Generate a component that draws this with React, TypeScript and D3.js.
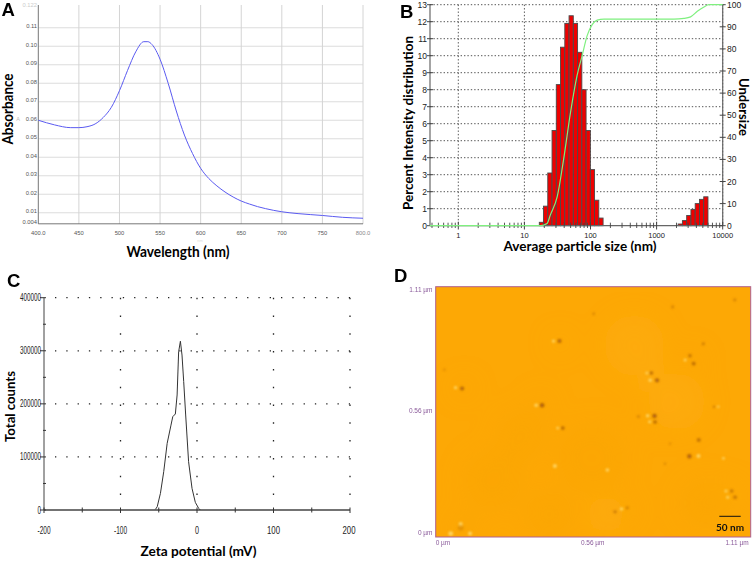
import React from "react";
import * as d3 from "d3";

const W = 753, H = 576;
const SANS = "'Liberation Sans', Arial, sans-serif";
const TITLE = "Lato, 'Open Sans', sans-serif";

// Panel A
const wavelengths = [400,420,440,450,460,470,480,490,500,510,520,530,535,540,550,560,570,580,590,600,610,620,630,640,650,660,670,680,700,720,750,775,800];
const absorbance = [.060,.0575,.056,.056,.0565,.058,.0615,.067,.076,.087,.097,.1025,.1025,.101,.093,.080,.065,.052,.042,.034,.0285,.0245,.0212,.0185,.0163,.0147,.0133,.0122,.0105,.0095,.0085,.0075,.007];
const aXTicks = [400,450,500,550,600,650,700,750,800];
const aXLabels = ["400.0","450","500","550","600","650","700","750","800.0"];
const aYTicks = [.01,.02,.03,.04,.05,.06,.07,.08,.09,.10,.11];

// Panel B
const sizesMain = [18.1,20.9,24.3,28.2,32.7,37.9,44,51,59.2,68.7,79.6,92.4,107,124,144];
const intensityMain = [.2,1.15,3.1,5.6,8.3,10.5,11.9,12.35,11.9,10.2,8.0,5.6,3.3,1.5,.45];
const sizesLarge = [2280,2645,3070,3560,4130,4790,5560];
const intensityLarge = [.1,.3,.6,.95,1.3,1.55,1.7];
const undersizeX = [.37,10,17.5,22,24.8,31.3,39.4,49.7,62.7,74.8,89,106,126,159,1830,2590,3270,4130,5210,6210,10000];
const undersizeY = [0,0,0,1,5,13,30.5,51,68,77,86,91,93,93.5,93.5,93.8,94.5,97,99,100,100];
const bDecades = [1,10,100,1000,10000];
const bMinor = [.4,.5,.6,.7,.8,.9,2,3,4,5,6,7,8,9,20,30,40,50,60,70,80,90,200,300,400,500,600,700,800,900,2000,3000,4000,5000,6000,7000,8000,9000];
const bLeftTicks = d3.range(0, 14);
const bRightTicks = [0,10,20,30,40,50,60,70,80,90,100];

// Panel C
const zeta = [-54.3,-52,-47.8,-43.5,-39,-34,-31.7,-28.3,-26,-24,-21.7,-19.6,-17.4,-14.8,-11,-6.5,-2.2,2.2,4.3];
const counts = [1256,6280,31400,72200,125600,160000,175800,180900,216700,298000,318000,292000,242000,179000,91000,40800,14400,3100,0];
const cXLabels = [-200,-100,0,100,200];
const cXMinor = [-150,-50,50,150];
const cYLabels = [0,100000,200000,300000,400000];
const cYMinor = [50000,150000,250000,350000];

// Panel D (micrometres)
const darkX = [.436,.093,.375,.448,.771,.773,.760,.780,.896,.909,.943,.927,.894,1.043,1.055,.632,.675,.557,.835,1.054,.031,.714,.981,.808,.826,.088];
const darkY = [.869,.659,.584,.483,.537,.510,.727,.695,.804,.769,.857,.430,.358,.204,.176,.112,.130,.990,1.020,1.051,.742,.534,.578,.325,.414,.041];
const darkR = [2,2,2.2,1.8,2.2,1.8,1.8,2.1,1.7,1.9,1.5,2,2.2,1.8,1.8,1.6,1.5,1.3,1.4,1.4,1.2,1.3,1,1.2,1.2,3];
const darkOp = [.85,.85,.9,.8,.9,.8,.75,.85,.65,.75,.55,.65,.85,.6,.65,.6,.5,.45,.5,.5,.35,.5,.8,.4,.35,.25];
const lightX = [.415,.070,.354,.430,.747,.754,.756,.744,.879,.926,.420,.605,.996,1.014,1.029,1.023,.655,.053,.121,.088];
const lightY = [.869,.662,.584,.483,.538,.511,.695,.727,.785,.359,.315,.297,.578,.349,.176,.204,.124,.015,.016,.058];
const lightR = [1.6,1.6,1.8,1.4,1.8,1.6,1.8,1.4,1.5,2,2,1.8,1.2,1.4,1.5,1.5,1.7,2.4,2,2];
const softX = [.44,.10,.37,.76,.77,.90,1.04,.66,.10,.60,.30,.20,.85,.55,.95,.70,.40];
const softY = [.86,.66,.59,.70,.52,.78,.19,.12,.04,.10,.45,.25,.60,.35,.15,.85,.10];
const softR = [9,9,10,13,12,11,11,12,14,18,25,30,28,35,25,30,25];
const dTicks = ["0 µm","0.56 µm","1.11 µm"];
const dTickVals = [0,.56,1.11];

const PanelA = () => {
  const x = d3.scaleLinear().domain([400, 800]).range([38.3, 363]);
  const y = d3.scaleLinear().domain([.01, .10]).range([212.7, 46.3]);
  const line = d3.line<number>().x((_, i) => x(wavelengths[i])).y(d => y(d)).curve(d3.curveMonotoneX);
  return (
    <g>
      <g filter="url(#soft)">
        {aYTicks.map(t => <line key={t} x1={38.3} x2={363} y1={y(t)} y2={y(t)} stroke="#dcdcdc" strokeWidth={1.1} />)}
        {aXTicks.slice(1).map(t => <line key={t} x1={x(t)} x2={x(t)} y1={5} y2={224} stroke="#d4d4d4" strokeWidth={1} />)}
        <line x1={38.3} x2={38.3} y1={5} y2={224} stroke="#777" strokeWidth={1} />
        <line x1={38.3} x2={363} y1={223.8} y2={223.8} stroke="#777" strokeWidth={1} />
        <path d={line(absorbance) || ""} fill="none" stroke="#5a5af0" strokeWidth={1} />
      </g>
      {aYTicks.map(t => (
        <text key={t} x={37} y={y(t) + 0.5} textAnchor="end" fontSize={5.8} fill="#555" fontFamily={SANS}>{t.toFixed(2)}</text>
      ))}
      <text x={37} y={224} textAnchor="end" fontSize={5.8} fill="#555" fontFamily={SANS}>0.004</text>
      <text x={37} y={7} textAnchor="end" fontSize={5.8} fill="#ccc" fontFamily={SANS}>0.122</text>
      <text x={18} y={121} textAnchor="middle" fontSize={5.5} fill="#bbb" fontFamily={SANS}>A</text>
      {aXLabels.map((l, i) => (
        <text key={l} x={x(aXTicks[i])} y={235} textAnchor="middle" fontSize={5.8} fill={i === 8 ? "#888" : "#555"} fontFamily={SANS}>{l}</text>
      ))}
      <text x={200} y={242} textAnchor="middle" fontSize={4} fill="#ddd" fontFamily={SANS}>nm</text>
      <text x={178} y={257} textAnchor="middle" fontSize={14.5} fontWeight={700} fontFamily={TITLE} textLength={103} lengthAdjust="spacingAndGlyphs">Wavelength (nm)</text>
      <text transform="translate(13,109) rotate(-90)" textAnchor="middle" fontSize={14.5} fontWeight={700} fontFamily={TITLE} textLength={71} lengthAdjust="spacingAndGlyphs">Absorbance</text>
    </g>
  );
};

const PanelB = () => {
  const x = d3.scaleLog().domain([1, 10000]).range([458.3, 722.7]);
  const y = d3.scaleLinear().domain([0, 13]).range([225.7, 4.7]);
  const yR = d3.scaleLinear().domain([0, 100]).range([225.7, 4.7]);
  const x0 = 430;
  const line = d3.line<number>().x((_, i) => x(undersizeX[i])).y(d => yR(d)).curve(d3.curveMonotoneX);
  const half = 1.0767;
  const bar = (s: number, v: number) => (
    <rect key={s} x={x(s / half)} width={x(s * half) - x(s / half)} y={y(v)} height={y(0) - y(v)} fill="#ee0000" stroke="#4a4a4a" strokeWidth={0.9} />
  );
  return (
    <g>
      <g filter="url(#soft)">
        {bLeftTicks.slice(1).map(t => <line key={t} x1={x0} x2={722.7} y1={y(t)} y2={y(t)} stroke="#555" strokeWidth={1} strokeDasharray="1.4 2" />)}
        {bDecades.map(t => <line key={t} x1={x(t)} x2={x(t)} y1={4.7} y2={225.7} stroke="#555" strokeWidth={1} strokeDasharray="1.4 2" />)}
        {sizesMain.map((s, i) => bar(s, intensityMain[i]))}
        {sizesLarge.map((s, i) => bar(s, intensityLarge[i]))}
        <line x1={x0} x2={x0} y1={4.7} y2={225.7} stroke="#666" strokeWidth={1.2} />
        <line x1={722.7} x2={722.7} y1={4.7} y2={225.7} stroke="#666" strokeWidth={1.2} />
        <line x1={x0} x2={722.7} y1={225.7} y2={225.7} stroke="#666" strokeWidth={1.2} />
        {bLeftTicks.map(t => <line key={t} x1={x0 - 3} x2={x0 + 3} y1={y(t)} y2={y(t)} stroke="#444" strokeWidth={1} />)}
        {bRightTicks.map(t => <line key={t} x1={719.7} x2={725.7} y1={yR(t)} y2={yR(t)} stroke="#444" strokeWidth={1} />)}
        {bMinor.map(t => <line key={t} x1={x(t)} x2={x(t)} y1={222.7} y2={228} stroke="#444" strokeWidth={0.9} />)}
        {bDecades.map(t => <line key={t} x1={x(t)} x2={x(t)} y1={221.7} y2={229.5} stroke="#444" strokeWidth={1} />)}
        <path d={line(undersizeY) || ""} fill="none" stroke="#7ff07f" strokeWidth={1.2} />
      </g>
      {bLeftTicks.map(t => <text key={t} x={427} y={y(t) + 3} textAnchor="end" fontSize={8.5} fill="#222" fontFamily={SANS}>{t}</text>)}
      {bRightTicks.map(t => <text key={t} x={727} y={yR(t) + 3} fontSize={8.5} fill="#222" fontFamily={SANS}>{t}</text>)}
      {bDecades.map(t => <text key={t} x={x(t)} y={237.5} textAnchor="middle" fontSize={7.5} fill="#222" fontFamily={SANS}>{t}</text>)}
      <text x={580} y={251} textAnchor="middle" fontSize={13} fontWeight={700} fontFamily={TITLE} textLength={153} lengthAdjust="spacingAndGlyphs">Average particle size (nm)</text>
      <text transform="translate(413,123) rotate(-90)" textAnchor="middle" fontSize={13} fontWeight={700} fontFamily={TITLE} textLength={174} lengthAdjust="spacingAndGlyphs">Percent Intensity distribution</text>
      <text transform="translate(739,107) rotate(90)" textAnchor="middle" fontSize={13} fontWeight={700} fontFamily={TITLE} textLength={58} lengthAdjust="spacingAndGlyphs">Undersize</text>
    </g>
  );
};

const PanelC = () => {
  const x = d3.scaleLinear().domain([-200, 200]).range([44, 350]);
  const y = d3.scaleLinear().domain([0, 400000]).range([510, 297.7]);
  const line = d3.line<number>().x((_, i) => x(zeta[i])).y(d => y(d));
  return (
    <g>
      <g filter="url(#soft)">
        {cYLabels.slice(1).map(t => <line key={t} x1={55} x2={350} y1={y(t)} y2={y(t)} stroke="#222" strokeWidth={1.3} strokeDasharray="1.3 10" />)}
        {cXLabels.slice(1).map(t => <line key={t} x1={x(t)} x2={x(t)} y1={297.7} y2={505} stroke="#222" strokeWidth={1.3} strokeDasharray="1.5 16.3" />)}
        <line x1={44} x2={44} y1={297.7} y2={510} stroke="#444" strokeWidth={1} />
        {cYLabels.map(t => <line key={t} x1={40} x2={46} y1={y(t)} y2={y(t)} stroke="#333" strokeWidth={1} />)}
        {cYMinor.map(t => <line key={t} x1={43} x2={46} y1={y(t)} y2={y(t)} stroke="#333" strokeWidth={1} />)}
        <line x1={44} x2={350} y1={510} y2={510} stroke="#444" strokeWidth={1.6} />
        {cXLabels.map(t => <line key={t} x1={x(t)} x2={x(t)} y1={507.5} y2={513} stroke="#333" strokeWidth={1} />)}
        {cXMinor.map(t => <line key={t} x1={x(t)} x2={x(t)} y1={507.5} y2={512.5} stroke="#333" strokeWidth={1} />)}
        <path d={line(counts) || ""} fill="none" stroke="#333" strokeWidth={1} />
      </g>
      {cYLabels.map(t => (
        <text key={t} x={41} y={y(t) + 3.5} textAnchor="end" fontSize={10} fill="#222" fontFamily={SANS} textLength={t === 0 ? 3.5 : 21} lengthAdjust="spacingAndGlyphs">{t}</text>
      ))}
      {cXLabels.map(t => (
        <text key={t} x={t === 200 ? x(t) - 1 : x(t)} y={534} textAnchor="middle" fontSize={10} fill="#222" fontFamily={SANS} textLength={t === 0 ? 4 : 13} lengthAdjust="spacingAndGlyphs">{t}</text>
      ))}
      <text x={198.5} y={556} textAnchor="middle" fontSize={12.5} fontWeight={700} fontFamily={TITLE} textLength={116} lengthAdjust="spacingAndGlyphs">Zeta potential (mV)</text>
      <text transform="translate(15,406.5) rotate(-90)" textAnchor="middle" fontSize={12.5} fontWeight={700} fontFamily={TITLE} textLength={71} lengthAdjust="spacingAndGlyphs">Total counts</text>
    </g>
  );
};

const PanelD = () => {
  const x = d3.scaleLinear().domain([0, 1.11]).range([435.7, 750.7]);
  const y = d3.scaleLinear().domain([0, 1.11]).range([537, 286.7]);
  const purple = "#8a5a9a";
  return (
    <g>
      <rect x={435.7} y={286.7} width={315} height={250.3} fill="#fda805" />
      <clipPath id="dclip"><rect x={435.7} y={286.7} width={315} height={250.3} /></clipPath>
      <g clipPath="url(#dclip)">
        <g filter="url(#blurBig)">
          {softX.map((v, i) => <circle key={i} cx={x(v)} cy={y(softY[i])} r={softR[i]} fill={i % 3 === 0 ? "#ffb21e" : "#f8a208"} opacity={0.35} />)}
        </g>
        <g filter="url(#blurSpot)">
          {lightX.map((v, i) => <circle key={i} cx={x(v)} cy={y(lightY[i])} r={lightR[i]} fill="#ffdc70" opacity={0.85} />)}
          {darkX.map((v, i) => <circle key={i} cx={x(v)} cy={y(darkY[i])} r={darkR[i]} fill="#a85a08" opacity={darkOp[i]} />)}
        </g>
      </g>
      <rect x={435.7} y={286.7} width={315} height={250.3} fill="none" stroke="#b0608f" strokeWidth={1} />
      {dTickVals.map((v, i) => (
        <text key={v} x={432.5} y={y(v) - (i === 2 ? -5 : i === 1 ? -2.2 : 2)} textAnchor="end" fontSize={6.5} fill={purple} fontFamily={SANS}>{dTicks[i]}</text>
      ))}
      <text x={435.7} y={544.5} fontSize={6.5} fill={purple} fontFamily={SANS}>{dTicks[0]}</text>
      <text x={592.7} y={544.5} textAnchor="middle" fontSize={6.5} fill={purple} fontFamily={SANS}>{dTicks[1]}</text>
      <text x={737} y={544.5} textAnchor="middle" fontSize={6.5} fill={purple} fontFamily={SANS}>{dTicks[2]}</text>
      <line x1={719.3} x2={740.7} y1={516.3} y2={516.3} stroke="#111" strokeWidth={1} />
      <text x={730} y={531} textAnchor="middle" fontSize={10} fontWeight={700} fill="#111" fontFamily={TITLE}>50 nm</text>
    </g>
  );
};

export default function App() {
  const letter = { fontFamily: SANS, fontWeight: 700, fontSize: 18.5, fill: "#000" } as const;
  return (
    <svg width={W} height={H} viewBox={`0 0 ${W} ${H}`} style={{ position: "absolute", left: 0, top: 0, background: "#fff" }}>
      <defs>
        <filter id="soft" x="-5%" y="-5%" width="110%" height="110%"><feGaussianBlur stdDeviation={0.35} /></filter>
        <filter id="blurSpot" x="-5%" y="-5%" width="110%" height="110%"><feGaussianBlur stdDeviation={1} /></filter>
        <filter id="blurBig" x="-10%" y="-10%" width="120%" height="120%"><feGaussianBlur stdDeviation={12} /></filter>
      </defs>
      <PanelA />
      <PanelB />
      <PanelC />
      <PanelD />
      <text x={1.5} y={16} {...letter}>A</text>
      <text x={400} y={18} {...letter}>B</text>
      <text x={7} y={287} {...letter}>C</text>
      <text x={394} y={282} {...letter}>D</text>
    </svg>
  );
}
